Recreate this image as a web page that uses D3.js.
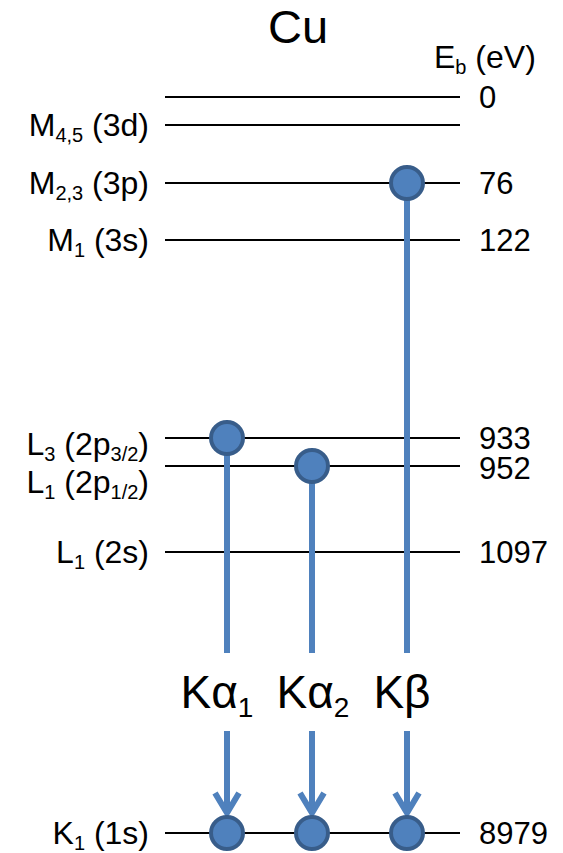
<!DOCTYPE html>
<html>
<head>
<meta charset="utf-8">
<script src="https://cdn.jsdelivr.net/npm/d3@7"></script>
<style>
  html, body { margin: 0; padding: 0; background: #fff; }
  svg { display: block; font-family: "Liberation Sans", Arial, sans-serif; }
</style>
</head>
<body>
<svg id="chart" width="563" height="853"></svg>
<script>
// ---------------- data ----------------
const title = "Cu";
const energyUnitLabel = "E_{b} (eV)";
const levelIds    = ["vac", "M45", "M23", "M1", "L3", "L2", "L1", "K"];
const levelNames  = ["", "M_{4,5} (3d)", "M_{2,3} (3p)", "M_{1} (3s)", "L_{3} (2p_{3/2})", "L_{1} (2p_{1/2})", "L_{1} (2s)", "K_{1} (1s)"];
const levelEnergies = [0, null, 76, 122, 933, 952, 1097, 8979];   // binding energy, eV

const transitionNames = ["Kα_{1}", "Kα_{2}", "Kβ"];
const transitionFrom  = ["L3", "L2", "M23"];
const transitionTo    = ["K", "K", "K"];

// ---------------- layout ----------------
const svg = d3.select("#chart");
const blue = "#4F81BD", blueDark = "#385D8A";
const lineX0 = 165, lineX1 = 460;

// schematic (non-proportional) energy-level axis
const y = d3.scaleOrdinal()
  .domain(levelIds)
  .range([97, 125, 183, 240, 438, 466, 552, 833]);

const x = d3.scaleOrdinal()
  .domain(transitionNames)
  .range([227, 312, 407]);

const labelNudge = { L3: 6, L2: 16 };
const rightNudge = { L2: 2 };
const transLabelDx = { "Kα_{1}": -10, "Kα_{2}": 1, "Kβ": -5 };

// tiny markup: "A_{sub}B" -> tspans
function richText(sel, str, size, subSize, shift) {
  const parts = [];
  const re = /_\{([^}]*)\}/g;
  let last = 0, m;
  while ((m = re.exec(str)) !== null) {
    if (m.index > last) parts.push({ t: str.slice(last, m.index), sub: false });
    parts.push({ t: m[1], sub: true });
    last = re.lastIndex;
  }
  if (last < str.length) parts.push({ t: str.slice(last), sub: false });
  let cur = 0;
  parts.forEach(p => {
    const target = p.sub ? shift : 0;
    sel.append("tspan")
      .attr("dy", target - cur)
      .attr("font-size", p.sub ? subSize : size)
      .text(p.t);
    cur = target;
  });
}

const levels = levelIds.map((id, i) => ({ id, name: levelNames[i], energy: levelEnergies[i] }));

// title
svg.append("text")
  .attr("x", 298).attr("y", 43)
  .attr("text-anchor", "middle")
  .attr("font-size", 47)
  .attr("fill", "#000")
  .text(title);

// unit label
richText(svg.append("text").attr("x", 434).attr("y", 68).attr("fill", "#000"),
  energyUnitLabel, 32, 20, 6);

// level lines
svg.append("g").selectAll("line").data(levels).join("line")
  .attr("x1", lineX0).attr("x2", lineX1)
  .attr("y1", d => y(d.id)).attr("y2", d => y(d.id))
  .attr("stroke", "#000").attr("stroke-width", 2);

// left labels
svg.append("g").selectAll("text").data(levels.filter(d => d.name)).join("text")
  .attr("x", 149)
  .attr("y", d => y(d.id) + 11 + (labelNudge[d.id] || 0))
  .attr("text-anchor", "end")
  .attr("fill", "#000")
  .each(function(d) { richText(d3.select(this), d.name, 32, 20, 6); });

// right labels (energies)
svg.append("g").selectAll("text").data(levels.filter(d => d.energy !== null)).join("text")
  .attr("x", 479)
  .attr("y", d => y(d.id) + 11 + (rightNudge[d.id] || 0))
  .attr("font-size", 31)
  .attr("fill", "#000")
  .text(d => d.energy);

// transitions
const trans = transitionNames.map((n, i) => ({ name: n, from: transitionFrom[i], to: transitionTo[i] }));
const labelBaseline = 708;
const gapTop = 653, gapBottom = 731;
const r = 16;

const gT = svg.append("g");
// upper shaft
gT.selectAll("line.up").data(trans).join("line").attr("class", "up")
  .attr("x1", d => x(d.name)).attr("x2", d => x(d.name))
  .attr("y1", d => y(d.from)).attr("y2", gapTop)
  .attr("stroke", blue).attr("stroke-width", 6);
// lower shaft
gT.selectAll("line.low").data(trans).join("line").attr("class", "low")
  .attr("x1", d => x(d.name)).attr("x2", d => x(d.name))
  .attr("y1", gapBottom).attr("y2", d => y(d.to) - r - 5)
  .attr("stroke", blue).attr("stroke-width", 6);
// arrow heads (open chevron)
gT.selectAll("path.head").data(trans).join("path").attr("class", "head")
  .attr("d", d => {
    const cx = x(d.name), tip = y(d.to) - r - 3;
    return `M${cx - 12},${tip - 21} L${cx},${tip - 1} L${cx + 12},${tip - 21}`;
  })
  .attr("fill", "none").attr("stroke", blue).attr("stroke-width", 6)
  .attr("stroke-linejoin", "miter").attr("stroke-linecap", "butt");

// circles at origin and destination
const dots = [];
trans.forEach(d => { dots.push({ x: x(d.name), y: y(d.from) }); dots.push({ x: x(d.name), y: y(d.to) }); });
gT.selectAll("circle").data(dots).join("circle")
  .attr("cx", d => d.x).attr("cy", d => d.y).attr("r", r)
  .attr("fill", blue).attr("stroke", blueDark).attr("stroke-width", 4);

// transition labels
gT.selectAll("text").data(trans).join("text")
  .attr("x", d => x(d.name) + (transLabelDx[d.name] || 0))
  .attr("y", labelBaseline)
  .attr("text-anchor", "middle")
  .attr("fill", "#000")
  .each(function(d) { richText(d3.select(this), d.name, 46, 28, 9); });
</script>
</body>
</html>
